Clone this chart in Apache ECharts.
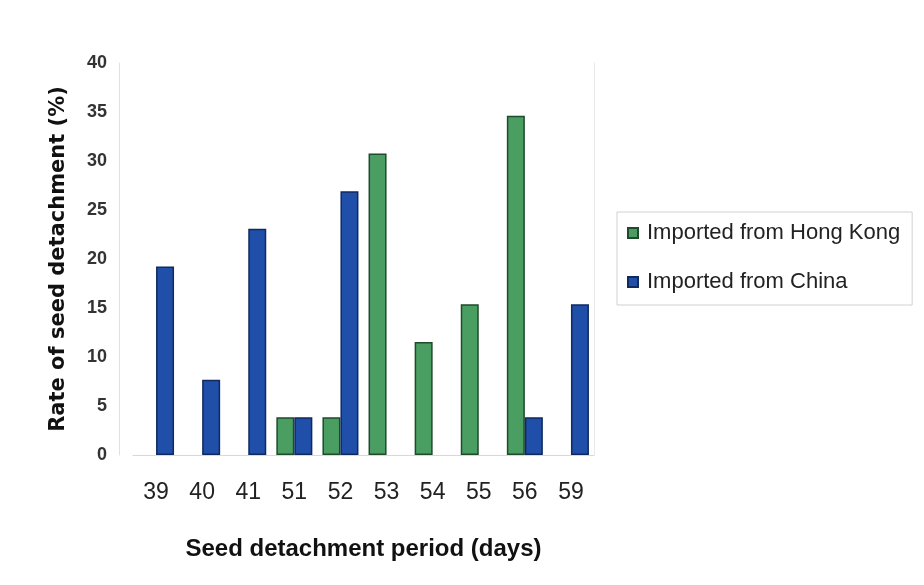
<!DOCTYPE html>
<html>
<head>
<meta charset="utf-8">
<script src="https://cdn.jsdelivr.net/npm/echarts@6/dist/echarts.min.js"></script>
<style>html,body{margin:0;padding:0;background:#fff}#c{width:924px;height:585px}</style>
</head>
<body>
<div id="c"></div>
<script>
const categories = ['39', '40', '41', '51', '52', '53', '54', '55', '56', '59'];
const hongKong = [0, 0, 0, 3.85, 3.85, 30.77, 11.54, 15.38, 34.62, 0];
const china = [19.23, 7.69, 23.08, 3.85, 26.92, 0, 0, 0, 3.85, 15.38];
const seriesNames = ['Imported from Hong Kong', 'Imported from China'];
const yTitle = 'Rate of seed detachment (%)';
const xTitle = 'Seed detachment period (days)';

// zero values draw no bar at all in the reference
const noZero = arr => arr.map(v => (v === 0 ? '-' : v));

const chart = echarts.init(document.getElementById('c'), null, {renderer: 'canvas'});
chart.setOption({
  backgroundColor: '#fff',
  animation: false,
  grid: {left: 133, right: 330, top: 63, bottom: 130},
  legend: {
    orient: 'vertical',
    left: 617, top: 212,
    padding: [10, 12, 12, 10],
    itemGap: 27,
    itemWidth: 10, itemHeight: 10,
    icon: 'rect',
    borderColor: '#d0d0d0', borderWidth: 1,
    textStyle: {fontFamily: 'Liberation Sans', fontSize: 22, color: '#222', padding: [0, 0, 0, 4]},
    data: seriesNames
  },
  xAxis: {
    type: 'category',
    data: categories,
    axisLine: {lineStyle: {color: '#d8d8d8'}},
    axisTick: {show: false},
    axisLabel: {fontFamily: 'Liberation Sans', fontSize: 23, color: '#222', margin: 26},
    name: xTitle,
    nameLocation: 'middle',
    nameGap: 82,
    nameTextStyle: {fontFamily: 'Liberation Sans', fontWeight: 'bold', fontSize: 24, color: '#111'}
  },
  yAxis: [{
    type: 'value',
    min: 0, max: 40, interval: 5,
    offset: 14,
    splitLine: {show: false},
    axisLine: {show: true, lineStyle: {color: '#e0e0e0'}},
    axisTick: {show: false},
    axisLabel: {fontFamily: 'Liberation Sans', fontWeight: 'bold', fontSize: 18, color: '#333', margin: 12},
    name: yTitle,
    nameLocation: 'middle',
    nameGap: 50,
    nameTextStyle: {fontFamily: 'DejaVu Sans', fontWeight: 'bold', fontSize: 21, color: '#111'}
  }, {
    type: 'value',
    position: 'right',
    min: 0, max: 40, interval: 5,
    splitLine: {show: false},
    axisLine: {show: true, lineStyle: {color: '#e8e8e8'}},
    axisTick: {show: false},
    axisLabel: {show: false}
  }],
  series: [{
    name: seriesNames[0],
    type: 'bar',
    data: noZero(hongKong),
    barWidth: 18,
    barGap: '0%',
    itemStyle: {color: '#4a9e62', borderColor: '#1f4a2c', borderWidth: 1.5}
  }, {
    name: seriesNames[1],
    type: 'bar',
    data: noZero(china),
    barWidth: 18,
    itemStyle: {color: '#1f4fa8', borderColor: '#102a60', borderWidth: 1.5}
  }]
});
</script>
</body>
</html>
